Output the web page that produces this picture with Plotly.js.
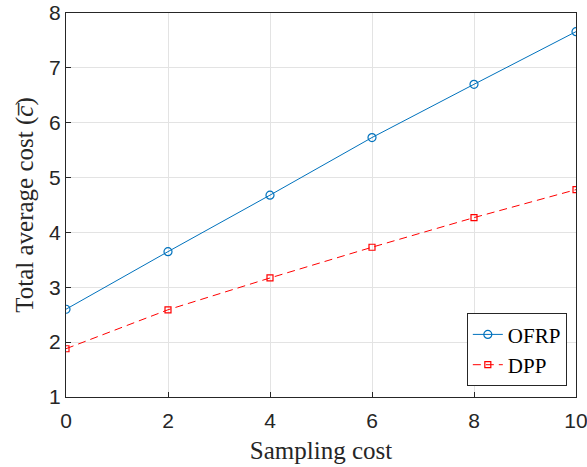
<!DOCTYPE html>
<html>
<head>
<meta charset="utf-8">
<script src="https://cdn.plot.ly/plotly-3.0.1.min.js"></script>
<style>html,body{margin:0;padding:0;background:#fff;}#chart{width:587px;height:467px;}</style>
</head>
<body>
<div id="chart"></div>
<script>
const samplingCost = [0, 2, 4, 6, 8, 10];
const ofrp = [2.60, 3.65, 4.68, 5.73, 6.70, 7.66];
const dpp = [1.88, 2.59, 3.17, 3.73, 4.27, 4.78];
const seriesNames = ["OFRP", "DPP"];
const xTicks = [0, 2, 4, 6, 8, 10];
const yTicks = [1, 2, 3, 4, 5, 6, 7, 8];

const traces = [
  {
    x: samplingCost, y: ofrp, name: seriesNames[0], type: "scatter", mode: "lines+markers",
    line: {color: "#0072BD", width: 1},
    marker: {symbol: "circle-open", size: 8, color: "#0072BD", line: {width: 1.2}}
  },
  {
    x: samplingCost, y: dpp, name: seriesNames[1], type: "scatter", mode: "lines+markers",
    line: {color: "#FF0000", width: 1, dash: "8px,5px"},
    marker: {symbol: "square-open", size: 6, color: "#FF0000", line: {width: 1.2}}
  }
];

const serif = "Liberation Serif, Times New Roman, serif";
const axisCommon = {
  showline: true, mirror: true, linecolor: "#262626", linewidth: 1,
  ticks: "inside", ticklen: 5, tickcolor: "#262626",
  showgrid: true, gridcolor: "#E3E3E3", gridwidth: 1, zeroline: false,
  ticklabeloverflow: "allow",
  tickfont: {family: "Liberation Sans, Arial, sans-serif", size: 21, color: "#262626"}
};

const layout = {
  width: 587, height: 467,
  margin: {l: 66, r: 11, t: 13, b: 70},
  paper_bgcolor: "#fff", plot_bgcolor: "#fff",
  showlegend: true,
  legend: {
    x: 0.982, y: 0.028, xanchor: "right", yanchor: "bottom",
    bgcolor: "#fff", bordercolor: "#262626", borderwidth: 1,
    font: {family: serif, size: 21, color: "#000"},
    tracegroupgap: 0
  },
  xaxis: Object.assign({}, axisCommon, {
    range: [0, 10], tickvals: xTicks, ticklabelstandoff: 5,
    title: {text: "Sampling cost", font: {family: serif, size: 25, color: "#262626"}, standoff: 10}
  }),
  yaxis: Object.assign({}, axisCommon, {
    range: [1, 8], tickvals: yTicks,
    title: {text: "Total average cost (<i>c̅</i>)", font: {family: serif, size: 25, color: "#262626"}, standoff: 8}
  })
};

Plotly.newPlot("chart", traces, layout, {displayModeBar: false, staticPlot: true});
</script>
</body>
</html>
